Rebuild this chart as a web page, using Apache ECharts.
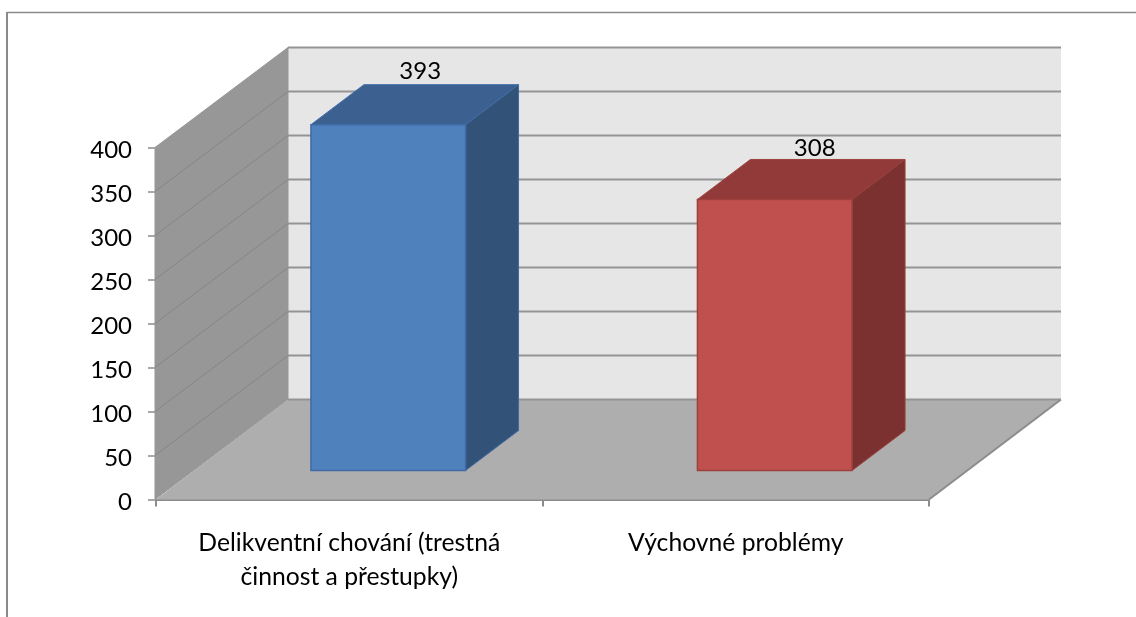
<!DOCTYPE html>
<html><head><meta charset="utf-8">
<style>html,body{margin:0;padding:0;background:#fff}#c{width:1136px;height:617px}</style>
<script src="https://cdn.jsdelivr.net/npm/echarts@6/dist/echarts.min.js"></script>
</head><body><div id="c"></div>
<script>
const categories = ['Delikventní chování (trestná\nčinnost a přestupky)', 'Výchovné problémy'];
const values = [393, 308];
const gridValues = [0, 50, 100, 150, 200, 250, 300, 350, 400];

const FONT = 'Lato';
const WALL_DX = 132, WALL_DY = -100;
const BAR_SHIFT_X = 39, BAR_SHIFT_Y = -29;
const BAR_DX = 53, BAR_DY = -40, BAR_FRACTION = 0.4;
const LABEL_DX = [32, 40], LABEL_DY = [-53, -51];
const barPalette = [
  {front: '#4f81bd', top: '#3c6090', side: '#325278', edge: '#3f6ca6'},
  {front: '#c0504d', top: '#923a39', side: '#7a3130', edge: '#9c403d'}
];
const GRID_COLOR = '#949494';

function poly(points, fill, stroke, lineWidth) {
  return {type: 'polygon', shape: {points}, silent: true,
    style: {fill, stroke: stroke || null, lineWidth: lineWidth || 0}};
}
function line(a, b, stroke, lineWidth) {
  return {type: 'line', shape: {x1: a[0], y1: a[1], x2: b[0], y2: b[1]}, silent: true,
    style: {stroke, lineWidth}};
}

function renderWalls(params, api) {
  const g = params.coordSys;
  const x0 = g.x, x1 = g.x + g.width;
  const yB = api.coord([0, 0])[1], yT = api.coord([0, 400])[1];
  return {type: 'group', children: [
    poly([[x0 + WALL_DX, yT + WALL_DY], [x1 + WALL_DX, yT + WALL_DY], [x1 + WALL_DX, yB + WALL_DY], [x0 + WALL_DX, yB + WALL_DY]], '#e6e6e6'),
    poly([[x0 - 1, yT], [x0 + WALL_DX, yT + WALL_DY], [x0 + WALL_DX, yB + WALL_DY], [x0 - 1, yB]], '#979797', '#979797', 1),
    poly([[x0, yB], [x1, yB], [x1 + WALL_DX, yB + WALL_DY], [x0 + WALL_DX, yB + WALL_DY]], '#aeaeae'),
    line([x1, yB], [x1 + WALL_DX, yB + WALL_DY], '#8c8c8c', 2)
  ]};
}

function renderGrid(params, api) {
  const g = params.coordSys;
  const v = api.value(0);
  const y = api.coord([0, v])[1];
  const x0 = g.x, x1 = g.x + g.width;
  const kids = [line([x0 + WALL_DX, y + WALL_DY], [x1 + WALL_DX, y + WALL_DY], GRID_COLOR, 2)];
  if (v > 0 && v < 400) kids.push(line([x0 - 1, y], [x0 + WALL_DX, y + WALL_DY], '#858585', 1));
  return {type: 'group', children: kids};
}

function renderBar(params, api) {
  const i = params.dataIndex;
  const idx = api.value(0), val = api.value(1);
  const top = api.coord([idx, val]), bot = api.coord([idx, 0]);
  const w = api.size([1, 0])[0] * BAR_FRACTION;
  const c = top[0] + BAR_SHIFT_X;
  const l = c - w / 2, r = c + w / 2;
  const t = top[1] + BAR_SHIFT_Y, b = bot[1] + BAR_SHIFT_Y;
  const p = barPalette[i];
  return {type: 'group', children: [
    poly([[l, t], [l + BAR_DX, t + BAR_DY], [r + BAR_DX, t + BAR_DY], [r, t]], p.top, p.edge, 1),
    poly([[r, t], [r + BAR_DX, t + BAR_DY], [r + BAR_DX, b + BAR_DY], [r, b]], p.side, p.edge, 1),
    poly([[l, t], [r, t], [r, b], [l, b]], p.front, p.edge, 1.5),
    {type: 'text', silent: true, z2: 10,
      style: {text: String(val), x: c + LABEL_DX[i], y: t + LABEL_DY[i], align: 'center', verticalAlign: 'middle',
        fill: '#000', font: '24px ' + FONT}}
  ]};
}

const chart = echarts.init(document.getElementById('c'), null, {renderer: 'canvas'});
chart.setOption({
  animation: false,
  backgroundColor: '#fff',
  grid: {left: 156, right: 207, top: 147.5, bottom: 117.5, containLabel: false},
  graphic: [
    {type: 'line', shape: {x1: 7, y1: 12.5, x2: 1136, y2: 12.5}, style: {stroke: '#8a8a8a', lineWidth: 1.5}, silent: true},
    {type: 'line', shape: {x1: 7, y1: 12, x2: 7, y2: 617}, style: {stroke: '#8a8a8a', lineWidth: 2}, silent: true}
  ],
  xAxis: {
    type: 'category', data: categories, boundaryGap: true,
    axisLine: {show: true, lineStyle: {color: '#8c8c8c', width: 2}},
    axisTick: {show: true, alignWithLabel: false, length: 7, lineStyle: {color: '#8c8c8c', width: 2}},
    axisLabel: {interval: 0, color: '#000', fontFamily: FONT, fontSize: 24.7, lineHeight: 34, margin: 27},
    splitLine: {show: false}
  },
  yAxis: {
    type: 'value', min: 0, max: 400, interval: 50,
    axisLine: {show: false},
    axisTick: {show: true, length: 8, lineStyle: {color: '#8c8c8c', width: 1.5}},
    axisLabel: {
      color: '#000', margin: 24,
      formatter: v => '{n|' + v + '}',
      rich: {n: {fontFamily: FONT, fontSize: 24, color: '#000', padding: [6, 0, 0, 0]}}
    },
    splitLine: {show: false}
  },
  series: [
    {type: 'custom', name: 'walls', renderItem: renderWalls, data: [[0]], z: 1, silent: true, clip: false},
    {type: 'custom', name: 'grid', renderItem: renderGrid, data: gridValues.map(v => [v]), z: 2, silent: true, clip: false},
    {type: 'custom', name: 'bars', renderItem: renderBar, data: values.map((v, i) => [i, v]), encode: {x: 0, y: 1}, z: 3, silent: true, clip: false}
  ]
});
</script></body></html>
